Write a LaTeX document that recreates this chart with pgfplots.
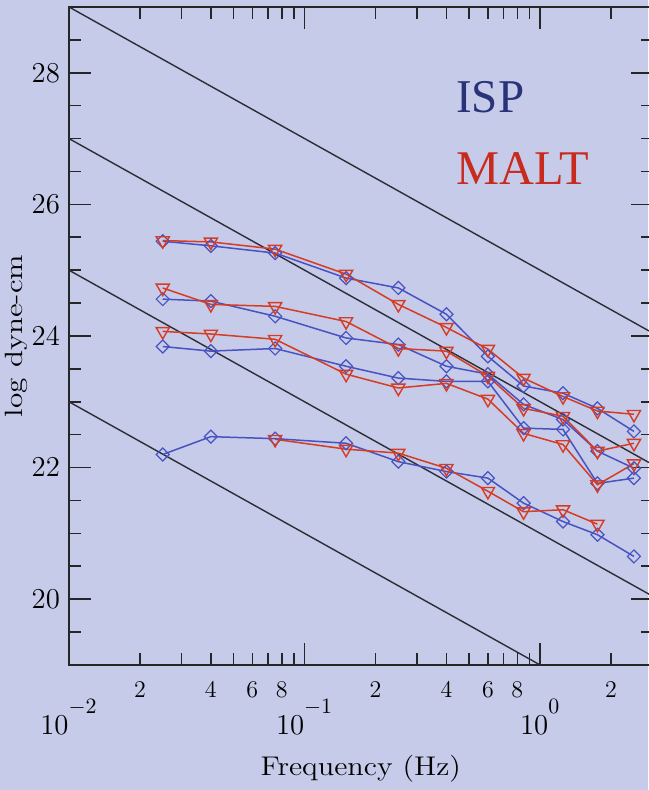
\documentclass[border=0pt]{standalone}
\usepackage{pgfplots}
\usepackage{pgfplotstable}
\pgfplotsset{compat=1.18}
\usepackage{fontspec}
\newfontfamily\timesf{Liberation Serif}
\definecolor{bgc}{RGB}{197,203,232}
\definecolor{ispc}{RGB}{72,82,192}
\definecolor{maltc}{RGB}{214,60,36}
\definecolor{ispt}{RGB}{42,50,122}
\definecolor{maltt}{RGB}{200,42,30}
\definecolor{refl}{RGB}{45,45,55}

\pgfplotstableread{
f     aI     aM     bI     bM     cI     cM     dI     dM
0.025 25.44  25.45  24.56  24.73  23.84  24.07  22.20  nan
0.04  25.37  25.43  24.53  24.48  23.77  24.03  22.47  nan
0.075 25.26  25.32  24.30  24.45  23.81  23.95  22.44  22.43
0.15  24.88  24.94  23.97  24.22  23.54  23.42  22.37  22.28
0.25  24.73  24.48  23.87  23.81  23.36  23.21  22.09  22.22
0.4   24.33  24.13  23.54  23.77  23.31  23.28  21.94  21.99
0.6   23.69  23.80  23.42  23.39  23.31  23.04  21.84  21.64
0.85  23.24  23.36  22.96  22.90  22.60  22.52  21.46  21.33
1.25  23.13  23.08  22.73  22.78  22.58  22.35  21.18  21.36
1.75  22.90  22.86  22.25  22.25  21.76  21.74  20.98  21.14
2.5   22.55  22.81  21.99  22.37  21.84  22.06  20.65  nan
}\data

\begin{document}
\begin{tikzpicture}
\fill[bgc] (-34.5pt,-62.5pt) rectangle (289.5pt,332.5pt);
\begin{axis}[
  at={(0,0)}, anchor=south west,
  scale only axis, width=291.8pt, height=329pt,
  xmode=log, xmin=0.01, xmax=3, ymin=19, ymax=29,
  axis line style={line width=1pt, black!85},
  tick align=inside,
  tick style={line width=0.8pt, black!85},
  major tick length=11pt, minor tick length=6pt,
  ytick={20,22,24,26,28},
  minor ytick={19.5,20,...,28.5},
  yticklabel style={font=\fontsize{15}{17}\selectfont, xshift=-1pt},
  xtick={0.01,0.1,1},
  xticklabels={\rule{0pt}{31pt}$10^{\raisebox{5pt}{$\scriptstyle -2$}}$,
               \rule{0pt}{31pt}$10^{\raisebox{5pt}{$\scriptstyle -1$}}$,
               \rule{0pt}{31pt}$10^{\raisebox{5pt}{$\scriptstyle 0$}}$},
  xticklabel style={font=\fontsize{15}{17}\selectfont},
  minor xtick={0.02,0.03,0.04,0.05,0.06,0.07,0.08,0.09,0.2,0.3,0.4,0.5,0.6,0.7,0.8,0.9,2,3},
  extra x ticks={0.02,0.04,0.06,0.08,0.2,0.4,0.6,0.8,2},
  extra x tick labels={\rule{0pt}{12.7pt}2,\rule{0pt}{12.7pt}4,\rule{0pt}{12.7pt}6,\rule{0pt}{12.7pt}8,\rule{0pt}{12.7pt}2,\rule{0pt}{12.7pt}4,\rule{0pt}{12.7pt}6,\rule{0pt}{12.7pt}8,\rule{0pt}{12.7pt}2},
  extra x tick style={major tick length=6pt, xticklabel style={font=\fontsize{12}{14}\selectfont}},
  xlabel={\scalebox{1.12}[1]{Frequency (Hz)}},
  xlabel style={font=\fontsize{13.5}{16}\selectfont, at={(axis description cs:0.5,-0.1672)}, anchor=base},
  ylabel={\scalebox{1.25}[1]{log dyne-cm}},
  ylabel style={font=\fontsize{12.5}{15}\selectfont, at={(axis description cs:-0.0805,0.5)}, anchor=base},
  unbounded coords=discard,
]
% reference lines of slope -2
\addplot[refl, line width=0.7pt] coordinates {(0.01,29) (3,24.046)};
\addplot[refl, line width=0.7pt] coordinates {(0.01,27) (3,22.046)};
\addplot[refl, line width=0.7pt] coordinates {(0.01,25) (3,20.046)};
\addplot[refl, line width=0.7pt] coordinates {(0.01,23) (1,19)};
% ISP
\foreach \c in {aI,bI,cI,dI}{
  \addplot[ispc, line width=0.75pt, mark=square, mark size=2.3pt, mark options={rotate=45, line width=0.6pt, solid}] table[x=f, y=\c] {\data};
}
% MALT
\foreach \c in {aM,bM,cM,dM}{
  \addplot[maltc, line width=0.75pt, mark=triangle, mark size=3.8pt, mark options={rotate=180, line width=0.7pt, solid}] table[x=f, y=\c] {\data};
}
\node[anchor=base west, font=\timesf\fontsize{23.5}{26}\selectfont, text=ispt, inner sep=0pt] at (axis description cs:0.663,0.8404) {ISP};
\node[anchor=base west, font=\timesf\fontsize{24.2}{27}\selectfont, text=maltt, inner sep=0pt] at (axis description cs:0.663,0.7295) {MALT};
\end{axis}
\pgfresetboundingbox
\useasboundingbox (-34.5pt,-62.5pt) rectangle (289.5pt,332.5pt);
\end{tikzpicture}
\end{document}
